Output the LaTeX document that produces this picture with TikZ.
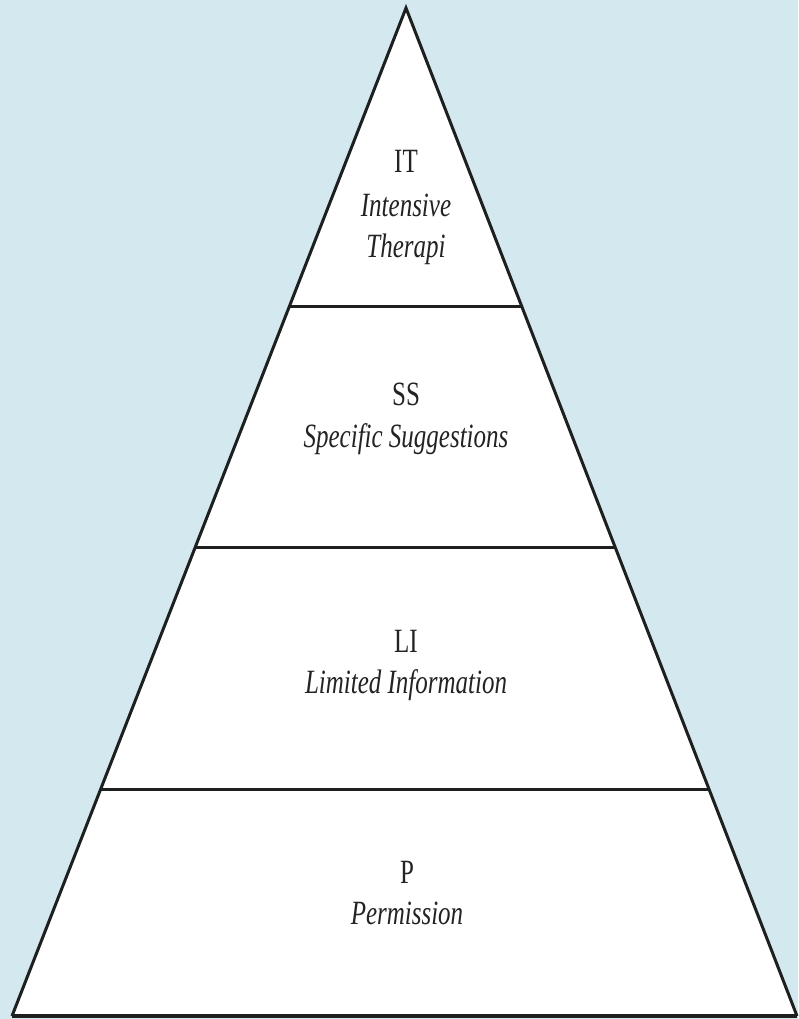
\documentclass[tikz,border=0pt]{standalone}
\usepackage{fontspec}
\setmainfont{Liberation Serif}
\newfontfamily\labfont[FakeStretch=0.735]{Liberation Serif}
\definecolor{bgblue}{RGB}{211,233,239}
\definecolor{edge}{RGB}{30,32,32}
\definecolor{txt}{RGB}{35,35,35}
\begin{document}
\begin{tikzpicture}[x=1pt,y=-1pt,
  lab/.style={anchor=base,inner sep=0pt,text=txt,font=\labfont\fontsize{34}{40}\selectfont},
  ilab/.style={lab,font=\labfont\itshape\fontsize{34}{40}\selectfont},
  tier/.style={draw=edge,line width=3pt},
  baseedge/.style={draw=edge,line width=4.5pt}]
\fill[bgblue] (0,0) rectangle (798,1019);
\useasboundingbox (0,0) rectangle (798,1019);
\coordinate (apex) at (406,8);
\coordinate (bl) at (12,1016);
\coordinate (br) at (797,1016);
\fill[white] (apex) -- (bl) -- (br) -- cycle;
% tier lines
\path (apex) -- (bl) coordinate[pos=0.2965] (l1a) coordinate[pos=0.5357] (l2a) coordinate[pos=0.7748] (l3a);
\path (apex) -- (br) coordinate[pos=0.2965] (l1b) coordinate[pos=0.5357] (l2b) coordinate[pos=0.7748] (l3b);
\draw[tier] (l1a) -- (l1b);
\draw[tier] (l2a) -- (l2b);
\draw[tier] (l3a) -- (l3b);
\draw[tier,line join=miter] (bl) -- (apex) -- (br);
\draw[baseedge] (bl) -- (br);
% labels
\node[lab]  (it)  at (406,173) {IT};
\node[ilab] (itn) at (406,216) {Intensive};
\node[ilab] (itt) at (406,257) {Therapi};
\node[lab]  (ss)  at (406,405) {SS};
\node[ilab] (ssn) at (406,447) {Specific Suggestions};
\node[lab]  (li)  at (406,652) {LI};
\node[ilab] (lin) at (406,693) {Limited Information};
\node[lab]  (p)   at (407,883) {P};
\node[ilab] (pn)  at (407,924) {Permission};
\end{tikzpicture}
\end{document}
